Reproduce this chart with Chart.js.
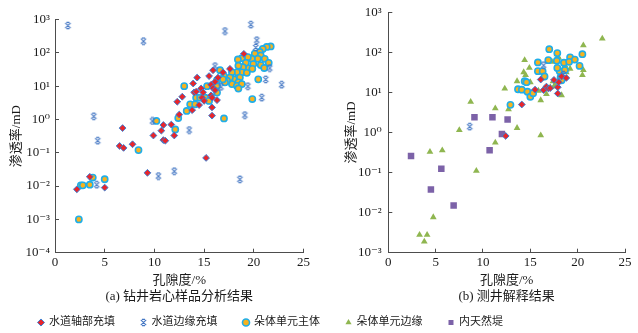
<!DOCTYPE html>
<html>
<head>
<meta charset="utf-8">
<script src="https://cdn.jsdelivr.net/npm/chart.js@4.4.0/dist/chart.umd.min.js"></script>
<style>
  html, body { margin: 0; padding: 0; background: #fff; }
  body { width: 638px; height: 333px; position: relative; overflow: hidden; }
  canvas { position: absolute; }
  #coreChart { left: 0; top: 0; }
  #logChart { left: 319px; top: 0; }
  #legendChart { left: 0; top: 291px; }
</style>
</head>
<body>
<canvas id="coreChart" width="319" height="333"></canvas>
<canvas id="logChart" width="319" height="333"></canvas>
<canvas id="legendChart" width="638" height="60"></canvas>
<script>
// Nomes das séries (legenda)
const seriesNames = ["水道轴部充填", "水道边缘充填", "朵体单元主体", "朵体单元边缘", "内天然堤"];

// Eixos
const xTicks = [0, 5, 10, 15, 20, 25];
const coreYTicks = [1e-4, 1e-3, 1e-2, 1e-1, 1e0, 1e1, 1e2, 1e3];
const coreYLabels = ["10⁻⁴", "10⁻³", "10⁻²", "10⁻¹", "10⁰", "10¹", "10²", "10³"];
const logYTicks = [1e-3, 1e-2, 1e-1, 1e0, 1e1, 1e2, 1e3];
const logYLabels = ["10⁻³", "10⁻²", "10⁻¹", "10⁰", "10¹", "10²", "10³"];

// (a) 钻井岩心样品分析结果 — [孔隙度 %, 渗透率 mD]
const coreAxis = [
    [2.2, 0.008], [3.5, 0.019], [5.0, 0.009], [9.3, 0.025], [15.2, 0.07],
    [6.8, 0.55], [6.5, 0.16], [6.9, 0.14], [7.8, 0.18], [9.9, 0.33], [10.7, 0.46],
    [10.9, 0.68], [10.9, 0.24], [11.1, 0.23], [11.7, 0.7], [12.0, 0.33], [12.3, 3.4],
    [12.5, 1.4], [12.8, 4.8], [13.8, 1.9], [13.9, 12], [14.3, 18], [14.0, 6.5],
    [14.7, 8.5], [14.8, 4.5], [14.5, 2.7], [15.0, 3.6], [15.5, 20], [15.7, 11],
    [15.9, 8.7], [15.9, 30], [15.7, 5.3], [15.8, 4.5], [15.8, 2.3], [15.8, 1.3],
    [16.3, 3.8], [16.4, 18], [16.1, 13.5], [16.9, 26], [17.6, 33], [19.0, 93],
    [14.9, 6.5], [14.2, 6.8], [16.1, 7.6]
];
const coreEdge = [
    [1.3, 660], [3.9, 1.25], [4.3, 0.23], [4.2, 0.011], [8.9, 225], [9.8, 0.9],
    [10.4, 0.02], [12.0, 0.028], [13.5, 0.48], [16.1, 40], [16.7, 9.5], [17.1, 450],
    [18.6, 0.016], [19.1, 1.35], [19.4, 10], [19.7, 700], [20.2, 145], [20.3, 240],
    [20.8, 4.5], [21.2, 16], [21.6, 35], [22.8, 11]
];
const coreLobe = [
    [2.4, 0.001], [2.6, 0.0105], [2.8, 0.0105], [3.5, 0.011], [3.8, 0.018], [5.0, 0.016],
    [8.4, 0.12], [10.2, 0.9], [12.1, 0.5], [12.4, 1.1], [13.25, 1.8], [13.6, 2.85],
    [14.1, 2.85], [13.0, 10], [14.2, 4.5], [14.6, 4.5], [15.1, 4.5], [15.5, 3.6],
    [16.3, 6.4], [15.3, 10], [16.3, 10.5], [16.3, 15], [16.6, 30], [17.0, 1.07],
    [19.85, 4.1], [20.45, 16],
    [21.7, 155], [21.3, 150], [20.9, 130], [20.6, 106], [20.1, 95], [20.7, 83],
    [21.1, 66], [20.4, 66], [19.8, 66], [19.4, 74], [18.8, 69], [18.4, 63],
    [19.2, 50], [19.95, 46], [19.5, 34], [20.7, 43], [21.5, 50], [21.05, 35],
    [18.9, 37], [18.45, 41], [18.8, 26], [19.3, 25], [19.85, 33], [18.3, 26],
    [17.8, 26], [18.6, 18], [18.0, 16], [17.6, 18], [18.45, 13], [17.8, 11.5],
    [17.3, 14.5], [18.3, 10.2], [18.8, 11.5], [17.1, 13], [18.45, 8.5], [17.0, 20],
    [16.9, 16]
];

// (b) 测井解释结果
const logAxis = [
    [12.4, 0.82], [14.1, 5.0], [15.5, 11.7], [16.1, 21], [16.4, 11.5], [16.7, 14],
    [16.9, 12.6], [17.1, 12.8], [17.5, 20.5], [17.9, 13.5], [17.9, 9.4], [18.0, 18],
    [18.3, 25], [18.8, 23]
];
const logEdge = [[8.6, 1.4], [16.4, 48], [18.5, 28]];
const logLobe = [
    [12.9, 4.9], [13.7, 12], [14.1, 11.7], [14.4, 19], [14.6, 18], [14.7, 10.4],
    [15.0, 7.8], [15.3, 9.6], [15.8, 56], [15.8, 34], [16.3, 34], [16.9, 64],
    [17.0, 120], [16.5, 25], [17.85, 96], [17.8, 62], [18.1, 34], [18.2, 24],
    [18.55, 55], [19.2, 75], [19.1, 58], [19.7, 66], [20.2, 46], [20.5, 90],
    [17.85, 41], [18.65, 36], [18.3, 20]
];
const logLobeEdge = [
    [22.6, 220], [20.6, 150], [20.6, 36], [20.5, 27], [19.2, 39], [18.8, 37],
    [18.8, 32], [18.65, 48], [18.3, 8.5], [17.9, 80], [17.8, 90], [18.0, 73],
    [17.3, 58], [17.5, 14], [17.4, 19], [17.6, 15.3], [17.1, 13.4], [16.7, 9.1],
    [15.85, 11], [16.1, 0.85], [16.1, 6.4], [14.4, 64], [14.9, 41], [14.3, 32],
    [14.5, 27], [14.7, 18], [15.0, 18], [14.1, 11], [13.6, 19], [12.3, 12.5],
    [12.7, 3.8], [13.6, 1.3], [11.3, 4.0], [11.3, 0.56], [8.7, 5.8], [7.5, 1.15],
    [4.4, 0.33], [5.7, 0.36], [9.3, 0.11], [4.75, 0.0077], [3.3, 0.0028],
    [4.1, 0.0028], [3.8, 0.0019]
];
const logLevee = [
    [2.4, 0.26], [4.5, 0.038], [5.6, 0.125], [6.9, 0.015], [9.1, 2.4],
    [10.7, 0.36], [11.0, 2.4], [12.0, 0.92], [12.6, 2.1]
];

const cnFont = "'Liberation Serif', 'Noto Sans CJK SC', serif";
const textColor = "#1a1a1a";
const axisColor = "#4d4d4d";

// Marcador "estrela" (X com traços) do Excel
function makeStar(color) {
    const c = document.createElement("canvas");
    c.width = 9;
    c.height = 9;
    const g = c.getContext("2d");
    g.strokeStyle = color;
    g.lineWidth = 1.2;
    g.beginPath();
    g.moveTo(1.8, 1.8); g.lineTo(7.2, 7.2);
    g.moveTo(7.2, 1.8); g.lineTo(1.8, 7.2);
    g.moveTo(3, 1.4); g.lineTo(6, 1.4);
    g.moveTo(3, 7.6); g.lineTo(6, 7.6);
    g.stroke();
    return c;
}

const styles = [
    { pointStyle: "rectRot", pointRadius: 3.4, backgroundColor: "#e8252b", borderColor: "#3c7fd2", borderWidth: 1 },
    { pointStyle: makeStar("#4678c4"), pointRadius: 4, backgroundColor: "#4678c4", borderColor: "#4678c4", borderWidth: 0 },
    { pointStyle: "circle", pointRadius: 3.1, backgroundColor: "#f7b21e", borderColor: "#20aee8", borderWidth: 1.6 },
    { pointStyle: "triangle", pointRadius: 3.9, backgroundColor: "#8fb650", borderColor: "#8fb650", borderWidth: 0 },
    { pointStyle: "rect", pointRadius: 4.6, backgroundColor: "#7c62a8", borderColor: "#7c62a8", borderWidth: 0 }
];

function toPoints(arr) {
    return arr.map(p => ({ x: p[0], y: p[1] }));
}

function dataset(idx, arr) {
    return Object.assign({ label: seriesNames[idx], data: toPoints(arr) }, styles[idx]);
}

// Zera o padding automático das escalas para fixar a área do gráfico
function noScalePadding(scale) {
    scale.paddingTop = 0;
    scale.paddingBottom = 0;
    scale.paddingLeft = 0;
    scale.paddingRight = 0;
}

function scatterOptions(cfg) {
    return {
        responsive: false,
        animation: false,
        layout: { padding: { top: cfg.top, right: cfg.right, bottom: 28.2, left: 0 } },
        plugins: {
            legend: { display: false },
            tooltip: { enabled: false },
            title: {
                display: true,
                text: cfg.title,
                position: "bottom",
                fullSize: false,
                padding: 0,
                color: textColor,
                font: { family: cnFont, size: 13, weight: "normal" }
            }
        },
        scales: {
            x: {
                type: "linear",
                min: 0,
                max: 25,
                afterBuildTicks: scale => { scale.ticks = xTicks.map(v => ({ value: v })); },
                afterFit: scale => { scale.height = 36.5; noScalePadding(scale); },
                grid: { drawOnChartArea: false, tickLength: -4, color: axisColor },
                border: { color: axisColor, width: 1 },
                ticks: { padding: 6.5, color: textColor, font: { family: "'Liberation Serif'", size: 13 } },
                title: {
                    display: true,
                    text: "孔隙度/%",
                    padding: { top: 0, bottom: 0.5 },
                    color: textColor,
                    font: { family: cnFont, size: 13 }
                }
            },
            y: {
                type: "logarithmic",
                min: cfg.yTicks[0],
                max: cfg.yTicks[cfg.yTicks.length - 1],
                afterBuildTicks: scale => { scale.ticks = cfg.yTicks.map(v => ({ value: v })); },
                afterFit: scale => { scale.width = cfg.yWidth; noScalePadding(scale); },
                grid: { drawOnChartArea: false, tickLength: -4, color: axisColor },
                border: { color: axisColor, width: 1 },
                ticks: {
                    padding: cfg.yPad,
                    color: textColor,
                    font: { family: "'Liberation Serif', 'DejaVu Serif'", size: 13 },
                    callback: (v, i) => cfg.yLabels[i]
                },
                title: {
                    display: true,
                    text: "渗透率/mD",
                    padding: { top: cfg.yTitlePad, bottom: 0 },
                    color: textColor,
                    font: { family: cnFont, size: 13 }
                }
            }
        }
    };
}

new Chart(document.getElementById("coreChart"), {
    type: "scatter",
    data: {
        datasets: [dataset(0, coreAxis), dataset(1, coreEdge), dataset(2, coreLobe)]
    },
    options: scatterOptions({
        title: "(a) 钻井岩心样品分析结果",
        top: 19.5, right: 15.5, yWidth: 55, yPad: 9, yTitlePad: 9.2,
        yTicks: coreYTicks, yLabels: coreYLabels
    })
});

new Chart(document.getElementById("logChart"), {
    type: "scatter",
    data: {
        datasets: [
            dataset(0, logAxis), dataset(1, logEdge), dataset(2, logLobe),
            dataset(3, logLobeEdge), dataset(4, logLevee)
        ]
    },
    options: scatterOptions({
        title: "(b) 测井解释结果",
        top: 12.3, right: 13, yWidth: 69.3, yPad: 10.6, yTitlePad: 25.2,
        yTicks: logYTicks, yLabels: logYLabels
    })
});

// Legenda comum às duas figuras
new Chart(document.getElementById("legendChart"), {
    type: "scatter",
    data: {
        datasets: seriesNames.map((name, i) => dataset(i, []))
    },
    options: {
        responsive: false,
        animation: false,
        layout: { padding: { left: 12.5, top: 0 } },
        scales: { x: { display: false }, y: { display: false } },
        plugins: {
            tooltip: { enabled: false },
            legend: {
                display: true,
                position: "top",
                align: "start",
                maxHeight: 56,
                labels: {
                    usePointStyle: true,
                    boxWidth: 5,
                    boxHeight: 5,
                    padding: 26,
                    color: textColor,
                    font: { family: cnFont, size: 11 }
                }
            }
        }
    }
});
</script>
</body>
</html>
